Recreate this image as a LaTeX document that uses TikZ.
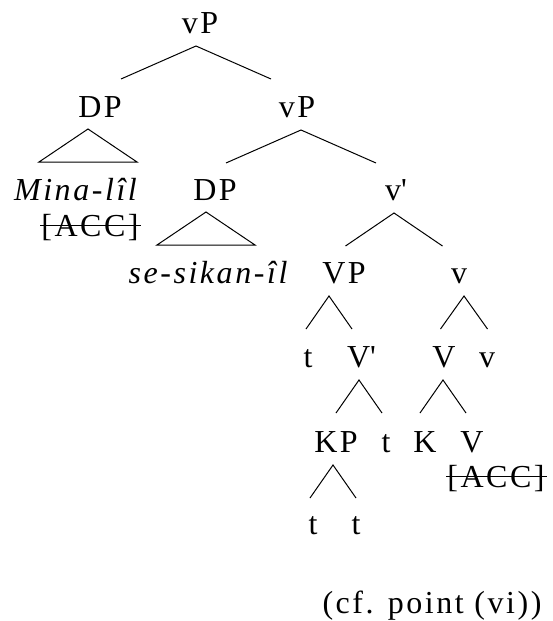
\documentclass[tikz,border=0pt]{standalone}
\usepackage{fontspec}
\setmainfont{Liberation Serif}[LetterSpace=8]
\newfontfamily\plainfont{Liberation Serif}[LetterSpace=8]
\usetikzlibrary{calc}
\newcommand\brnch[3]{\draw[br] ($(#1.base)+(#2-#3,46)$) -- ($(#1.base)+(#2,13)$) -- ($(#1.base)+(#2+#3,46)$);}
\newcommand\trngl[3]{\draw[br] ($(#1.base)+(#2-#3,45)$) -- ($(#1.base)+(#2,12)$) -- ($(#1.base)+(#2+#3,45)$) -- cycle;}
\newcommand\strk[1]{\draw[strike] ($(#1.base west)+(-1,-10.5)$) -- ($(#1.base east)+(2,-10.5)$);}
\newcommand\apos{{\plainfont '}}
\begin{document}
\begin{tikzpicture}[x=1pt,y=-1pt,
  lab/.style={anchor=base,inner sep=0pt,font=\fontsize{32}{34}\selectfont},
  br/.style={line width=1pt,line join=miter},
  strike/.style={line width=1.3pt}]
\useasboundingbox (0,0) rectangle (553,621);
% labels
\node[lab] (vP1) at (200,33) {vP};
\node[lab] (DP1) at (100,117) {DP};
\node[lab] (vP2) at (297,117) {vP};
\node[lab] (mina) at (75.5,200) {\itshape Mina-lîl};
\node[lab] (acc1) at (90,236) {[ACC]};
\node[lab] (DP2) at (215,200) {DP};
\node[lab] (vbar) at (396,200) {v\apos};
\node[lab] (sesik) at (208,283) {\itshape se-sikan-îl};
\node[lab] (VP) at (344,283) {VP};
\node[lab] (vsm) at (459,283) {v};
\node[lab] (t1) at (308,367) {t};
\node[lab] (Vbar) at (361.5,367) {V\apos};
\node[lab] (V1) at (444,367) {V};
\node[lab] (v2) at (487,367) {v};
\node[lab] (KP) at (336,452) {KP};
\node[lab] (t2) at (386,452) {t};
\node[lab] (K) at (425,452) {K};
\node[lab] (V2) at (472,452) {V};
\node[lab] (acc2) at (496,487) {[ACC]};
\node[lab] (t3) at (313,534) {t};
\node[lab] (t4) at (356,534) {t};
\node[lab] (cf) at (432,613) {(cf. point (vi))};
% branches
\brnch{vP1}{-4}{75}
\trngl{DP1}{-12}{49}
\brnch{vP2}{4}{75}
\trngl{DP2}{-9}{49}
\brnch{vbar}{-2}{48.5}
\brnch{VP}{-15}{23}
\brnch{vsm}{5}{23.5}
\brnch{Vbar}{-2.5}{23}
\brnch{V1}{-1}{23}
\brnch{KP}{-3}{23}
% strikes
\strk{acc1}
\strk{acc2}
\end{tikzpicture}
\end{document}
